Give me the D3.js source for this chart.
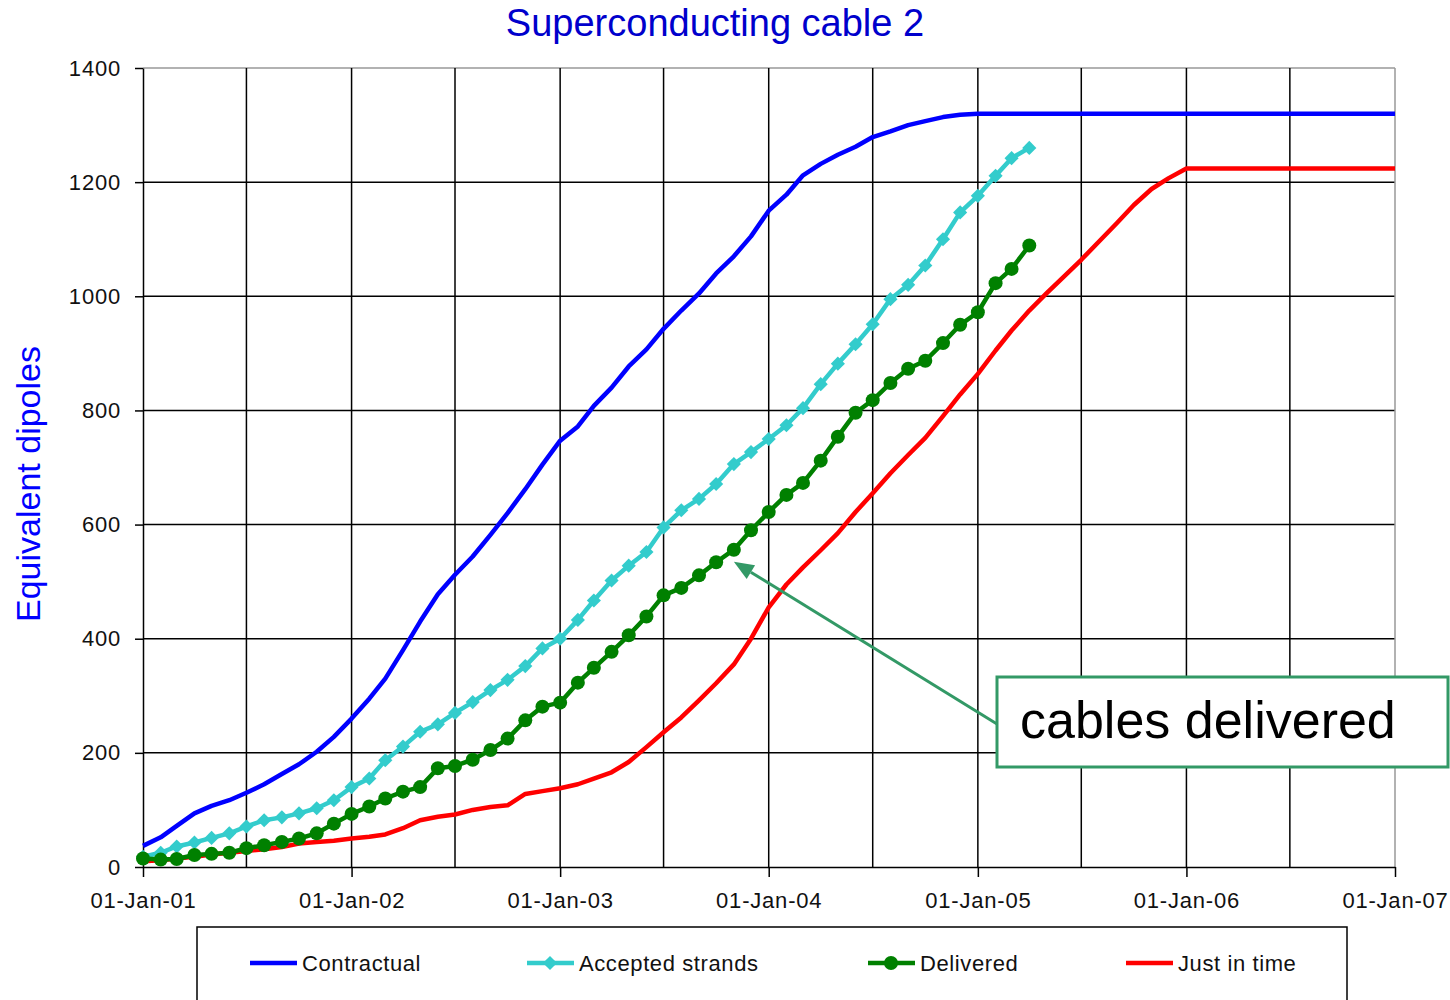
<!DOCTYPE html>
<html>
<head>
<meta charset="utf-8">
<script src="https://cdn.jsdelivr.net/npm/d3@7"></script>
<style>
body { margin: 0; background: #fff; }
text { font-family: "Liberation Sans", Arial, sans-serif; }
</style>
</head>
<body>
<script>
// Superconducting cable 2 - monthly cumulative numbers (equivalent dipoles)
const startDate = new Date(2001, 0, 1)
const endDate = new Date(2007, 0, 1)
const months = d3.timeMonth.range(startDate, d3.timeMonth.offset(endDate, 1))
const years = d3.timeYear.range(startDate, d3.timeYear.offset(endDate, 1))
const halfYears = d3.timeMonth.every(6).range(startDate, d3.timeMonth.offset(endDate, 1))
const yTicks = [0, 200, 400, 600, 800, 1000, 1200, 1400]

const contractual = [37, 52, 72, 94, 107, 117, 130, 145, 163, 180, 202, 228,
	260, 295, 330, 380, 430, 478, 512, 544, 582, 620, 662, 705,
	747, 772, 808, 840, 877, 907, 943, 975, 1005, 1040, 1070, 1105,
	1150, 1178, 1212, 1232, 1248, 1262, 1279, 1289, 1300, 1307, 1314, 1318,
	1320, 1320, 1320, 1320, 1320, 1320, 1320, 1320, 1320, 1320, 1320, 1320,
	1320, 1320, 1320, 1320, 1320, 1320, 1320, 1320, 1320, 1320, 1320, 1320, 1320]

const accepted = [18, 25, 36, 43, 51, 59, 71, 82, 87, 94, 103, 117,
	140, 155, 187, 211, 237, 250, 270, 289, 310, 328, 352, 383,
	400, 433, 467, 502, 528, 552, 595, 625, 645, 671, 706, 727,
	750, 774, 804, 846, 882, 916, 951, 995, 1020, 1054, 1100, 1147,
	1176, 1211, 1242, 1260]

const delivered = [15, 13, 14, 21, 23, 25, 33, 38, 44, 50, 59, 76,
	93, 106, 120, 132, 140, 173, 177, 188, 205, 225, 257, 281,
	288, 323, 349, 377, 406, 439, 476, 489, 511, 534, 556, 590,
	622, 652, 673, 712, 754, 796, 818, 848, 873, 887, 918, 950,
	972, 1023, 1048, 1089]

const justInTime = [10, 12, 15, 18, 22, 25, 28, 31, 35, 41, 44, 46,
	50, 53, 57, 68, 82, 88, 92, 100, 105, 108, 128, 133,
	138, 145, 155, 166, 184, 210, 236, 262, 292, 322, 355, 400,
	455, 495, 525, 555, 585, 622, 655, 690, 722, 752, 790, 828,
	864, 905, 940, 975, 1005, 1035, 1064, 1096, 1128, 1160, 1188, 1207,
	1224, 1224, 1224, 1224, 1224, 1224, 1224, 1224, 1224, 1224, 1224, 1224, 1224]

const seriesNames = ['Contractual', 'Accepted strands', 'Delivered', 'Just in time']
const seriesColors = ['#0000ff', '#33cccc', '#008000', '#ff0000']

const svgw = 1450
const svgh = 1000
const plotL = 143, plotR = 1395, plotT = 68, plotB = 867

const svg = d3.select('body').append('svg').attr('width', svgw).attr('height', svgh)

const xScale = d3.scaleTime().domain([startDate, endDate]).range([plotL, plotR])
const yScale = d3.scaleLinear().domain([0, 1400]).range([plotB, plotT])

// grid
svg.append('g').selectAll('line')
	.data(yTicks.filter(v => v > 0))
	.enter().append('line')
	.attr('x1', plotL).attr('x2', plotR)
	.attr('y1', d => yScale(d)).attr('y2', d => yScale(d))
	.attr('stroke', d => d === 1400 ? '#999' : '#000')
	.attr('stroke-width', 1.5)

svg.append('g').selectAll('line')
	.data(halfYears.filter(d => d > startDate))
	.enter().append('line')
	.attr('x1', d => xScale(d)).attr('x2', d => xScale(d))
	.attr('y1', plotT).attr('y2', plotB)
	.attr('stroke', d => +d === +endDate ? '#999' : '#000')
	.attr('stroke-width', 1.5)

// axes
const xAxis = d3.axisBottom(xScale)
	.tickValues(years)
	.tickSize(10)
	.tickSizeOuter(0)
	.tickPadding(15)
	.tickFormat(d3.timeFormat('%d-%b-%y'))

const yAxis = d3.axisLeft(yScale)
	.tickValues(yTicks)
	.tickSize(8)
	.tickSizeOuter(0)
	.tickPadding(14)
	.tickFormat(d3.format('d'))

const gx = svg.append('g').attr('transform', `translate(0,${plotB})`).call(xAxis)
const gy = svg.append('g').attr('transform', `translate(${plotL},0)`).call(yAxis)

;[gx, gy].forEach(g => {
	g.attr('font-family', null).attr('font-size', null)
	g.selectAll('path, line').attr('stroke', '#000').attr('stroke-width', 1.5)
	g.selectAll('text').attr('font-size', 22).attr('fill', '#111').style('letter-spacing', '0.8px')
})

// lines
const line = d3.line()
	.x((d, i) => xScale(months[i]))
	.y(d => yScale(d))

const allSeries = [contractual, accepted, delivered, justInTime]
const drawOrder = [3, 0, 1, 2]

drawOrder.forEach(k => {
	svg.append('path')
		.datum(allSeries[k])
		.attr('d', line)
		.attr('fill', 'none')
		.attr('stroke', seriesColors[k])
		.attr('stroke-width', 4.5)
		.attr('stroke-linejoin', 'round')
})

const diamond = d3.symbol(d3.symbolSquare, 100)

svg.append('g').selectAll('path')
	.data(accepted)
	.enter().append('path')
	.attr('d', diamond)
	.attr('transform', (d, i) => `translate(${xScale(months[i])},${yScale(d)}) rotate(45)`)
	.attr('fill', seriesColors[1])

svg.append('g').selectAll('circle')
	.data(delivered)
	.enter().append('circle')
	.attr('cx', (d, i) => xScale(months[i]))
	.attr('cy', d => yScale(d))
	.attr('r', 7)
	.attr('fill', seriesColors[2])

// title + y label
svg.append('text')
	.attr('x', 715).attr('y', 36)
	.attr('text-anchor', 'middle')
	.attr('font-size', 38)
	.attr('fill', '#0000cc')
	.text('Superconducting cable 2')

svg.append('text')
	.attr('transform', 'translate(40,484) rotate(-90)')
	.attr('text-anchor', 'middle')
	.attr('font-size', 34)
	.attr('fill', '#0000ff')
	.text('Equivalent dipoles')

// annotation
const annoColor = '#339966'
const tip = [xScale(months[34]), yScale(delivered[34]) + 12]
const from = [997, 724]
const ang = Math.atan2(from[1] - tip[1], from[0] - tip[0])
const headLen = 20, headW = 8
const base = [tip[0] + headLen * Math.cos(ang), tip[1] + headLen * Math.sin(ang)]

svg.append('line')
	.attr('x1', from[0]).attr('y1', from[1])
	.attr('x2', base[0]).attr('y2', base[1])
	.attr('stroke', annoColor).attr('stroke-width', 3)

svg.append('path')
	.attr('d', `M${tip[0]},${tip[1]}
		L${base[0] - headW * Math.sin(ang)},${base[1] + headW * Math.cos(ang)}
		L${base[0] + headW * Math.sin(ang)},${base[1] - headW * Math.cos(ang)}Z`)
	.attr('fill', annoColor)

svg.append('rect')
	.attr('x', 997).attr('y', 677).attr('width', 451).attr('height', 90)
	.attr('fill', '#fff').attr('stroke', annoColor).attr('stroke-width', 3)

svg.append('text')
	.attr('x', 1020).attr('y', 738)
	.attr('font-size', 52)
	.attr('fill', '#000')
	.text('cables delivered')

// legend
svg.append('rect')
	.attr('x', 197).attr('y', 927).attr('width', 1150).attr('height', 100)
	.attr('fill', 'none').attr('stroke', '#000').attr('stroke-width', 1.5)

const legendX = [250, 527, 868, 1126]
const ly = 963

seriesNames.forEach((name, k) => {
	const g = svg.append('g').attr('transform', `translate(${legendX[k]},${ly})`)
	g.append('line').attr('x1', 0).attr('x2', 47)
		.attr('stroke', seriesColors[k]).attr('stroke-width', 4.5)
	if (k === 1) g.append('path').attr('d', diamond).attr('transform', 'translate(23,0) rotate(45)').attr('fill', seriesColors[k])
	if (k === 2) g.append('circle').attr('cx', 23).attr('r', 7).attr('fill', seriesColors[k])
	g.append('text').attr('x', 52).attr('dy', '0.35em')
		.attr('font-size', 22).attr('fill', '#111').style('letter-spacing', '0.6px')
		.text(name)
})
</script>
</body>
</html>
